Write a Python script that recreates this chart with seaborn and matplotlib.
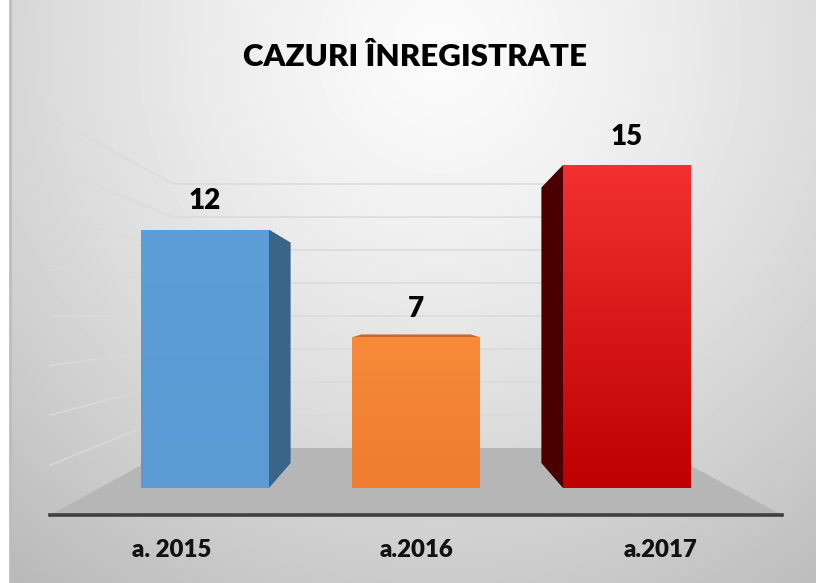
import numpy as np
import pandas as pd
import seaborn as sns
import matplotlib.pyplot as plt
from matplotlib.colors import to_rgb
from matplotlib.patches import Polygon, Rectangle

sns.set_theme(style="white")
plt.rcParams['font.family'] = ['Lato', 'DejaVu Sans']

W, H = 816, 583

categories = ['a. 2015', 'a.2016', 'a.2017']
cases = [12, 7, 15]
title = 'CAZURI ÎNREGISTRATE'
wall_ticks = [0, 2, 4, 6, 8, 10, 12, 14, 16]

front_colors = ['#5B9BD5', '#F2843A', '#E02020']
side_colors = ['#3A6588', '#C8692A', '#4A0000']
bar_gradients = [('#5D9DD8', '#5B9AD3'), ('#F88A3A', '#EF7C2F'), ('#F23030', '#BE0000')]

fig = plt.figure(figsize=(W / 100, H / 100), dpi=100, facecolor='white')


def fig_box(left, top, right, bottom):
    return [left / W, 1 - bottom / H, (right - left) / W, (bottom - top) / H]


# backdrop, in pixels
bg = fig.add_axes([0, 0, 1, 1], zorder=0)
bg.set_xlim(0, W)
bg.set_ylim(H, 0)
bg.axis('off')

gx, gy = np.meshgrid(np.arange(W), np.arange(H))
dist = np.hypot((gx - 440) / 640, (gy - 50) / 640)
shade = np.clip(0.985 - 0.24 * dist ** 1.3, 0, 1)
panel = bg.imshow(shade, cmap='gray', vmin=0, vmax=1, extent=(0, W, H, 0), aspect='auto')
panel.set_clip_path(Rectangle((10, 0), W, H, transform=bg.transData))
bg.plot([10, 10], [0, H], color='#BDBDBD', lw=2)

# floor and walls
bg.add_patch(Polygon([(50, 515), (173, 448), (658, 448), (782, 515)],
                     facecolor='#B6B6B6', edgecolor='none'))
for t in wall_ticks[1:]:
    back_y = 448 - t * 16.5
    front_y = 515 - t * 24.9
    bg.plot([50, 173, 658], [front_y, back_y, back_y], color='#DADADA', lw=1.3,
            solid_joinstyle='miter', alpha=0.85)

# bars, on real scales
ax = fig.add_axes(fig_box(50, 100, 782, 515), zorder=1)
ax.patch.set_alpha(0)

df = pd.DataFrame({'an': categories, 'cazuri': cases})
sns.barplot(data=df, x='an', y='cazuri', hue='an', palette=front_colors,
            width=128 / 211, legend=False, saturation=1, linewidth=0, ax=ax)

xmin, xmax = (50 - 205) / 211, (782 - 205) / 211
px_per_unit = (488 - 165) / 15
ymin, ymax = -(515 - 488) / px_per_unit, (488 - 100) / px_per_unit

vanish_x = 1.0
vanish_y = (488 - 318) / px_per_unit
depth = 0.147


def to_back(x, y):
    return x + (vanish_x - x) * depth, y + (vanish_y - y) * depth


for bar, side, grad in zip(ax.patches, side_colors, bar_gradients):
    x0, x1 = bar.get_x(), bar.get_x() + bar.get_width()
    top = bar.get_height()
    faces = []
    if x1 < vanish_x:
        faces.append([(x1, 0), (x1, top), to_back(x1, top), to_back(x1, 0)])
    if x0 > vanish_x:
        faces.append([(x0, 0), (x0, top), to_back(x0, top), to_back(x0, 0)])
    if top < vanish_y:
        faces.append([(x0, top), (x1, top), to_back(x1, top), to_back(x0, top)])
    for face in faces:
        ax.add_patch(Polygon(face, facecolor=side, edgecolor='none', zorder=2))

    c0 = np.array(to_rgb(grad[0]))
    c1 = np.array(to_rgb(grad[1]))
    ramp = np.linspace(0, 1, 64)[:, None, None]
    img = c0[None, None, :] * (1 - ramp) + c1[None, None, :] * ramp
    im = ax.imshow(img, extent=(x0, x1, 0, top), aspect='auto', origin='upper', zorder=3)
    im.set_clip_path(bar)
    bar.set_zorder(2.5)

for container in ax.containers:
    ax.bar_label(container, padding=11, fontsize=20, fontweight='heavy', color='black', zorder=5)

ax.set_xlim(xmin, xmax)
ax.set_ylim(ymin, ymax)
ax.set_xlabel('')
ax.set_ylabel('')
ax.set_yticks([])

# labels sit on the front edge, which is wider than the row of bars
span = (782 - 50) / 3 / 211
ax.set_xticks([1 - span, 1, 1 + span])
ax.set_xticklabels(categories, fontsize=17.3, fontweight='heavy', color='#111111')
ax.tick_params(axis='x', length=0, pad=17)

sns.despine(ax=ax, left=True)
ax.spines['bottom'].set_color('#404040')
ax.spines['bottom'].set_linewidth(2.6)

fig.text(415 / W, 1 - 57 / H, title, ha='center', va='center', fontsize=22.5,
         fontweight='heavy', color='black')

fig.savefig('out.png', dpi=100)
